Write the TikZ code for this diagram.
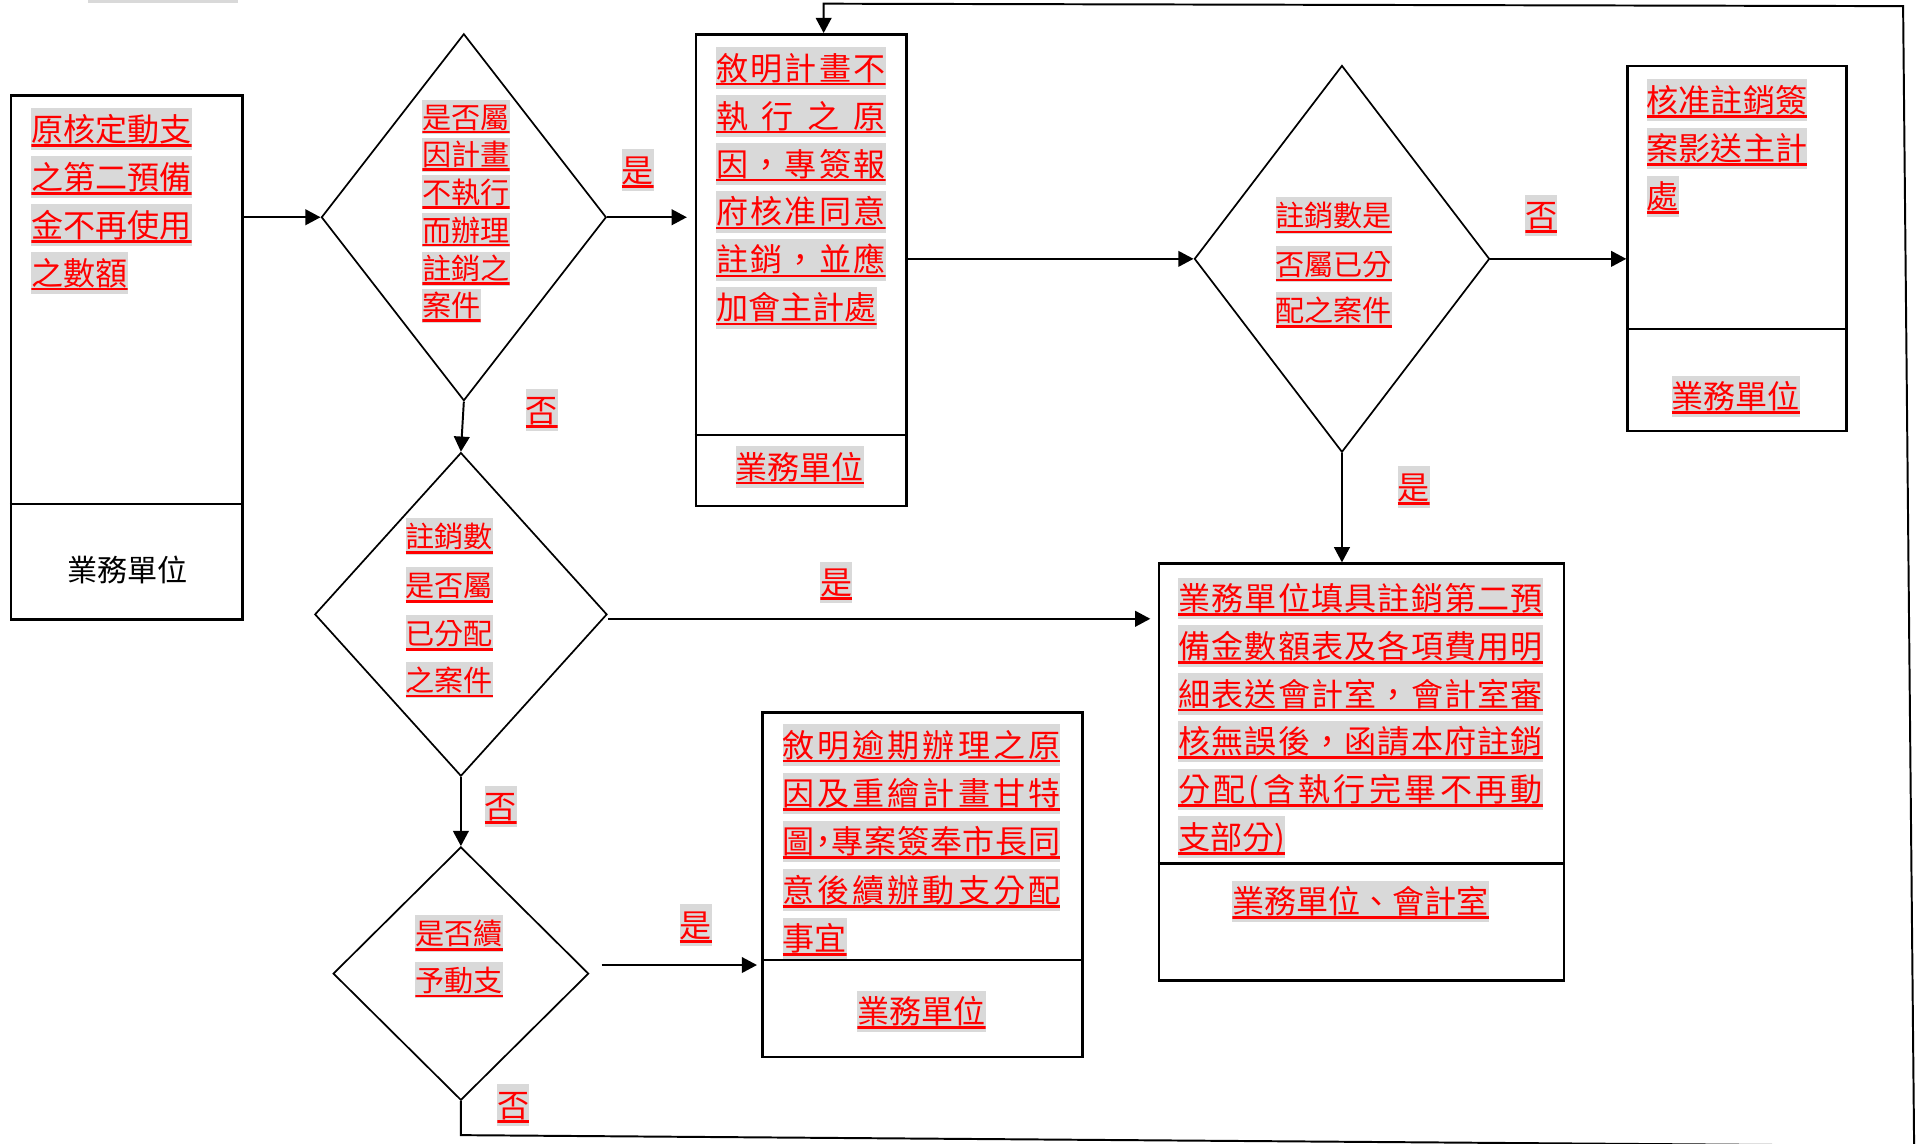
\documentclass[tikz,border=0pt]{standalone}
\usepackage{fontspec}
\newfontfamily\cjk{Noto Sans CJK TC}
\usetikzlibrary{shapes.geometric,arrows.meta}
\definecolor{hlgray}{HTML}{D9D9D9}
\definecolor{hlred}{HTML}{FF0000}
\makeatletter
\newcommand\spreadto[2]{\makebox[#1][s]{\def\sp@first{1}\@tfor\sp@c:=#2\do{\ifx\sp@first\@empty\hfill\fi\sp@c\let\sp@first\@empty}}}
\makeatother
\tikzset{
  boxst/.style={draw, line width=1pt, anchor=north west, inner sep=0pt},
  divline/.style={line width=1pt},
  dia/.style={draw, diamond, line width=0.7pt, inner sep=0pt},
  arr/.style={line width=0.8pt, -{Triangle[length=6.2pt,width=6.4pt]}},
  hlt/.style={fill=hlgray, text=hlred, inner xsep=0pt, inner ysep=0pt, anchor=west,
    minimum height=17pt, text height=11.5pt, text depth=1.6pt,
    font=\cjk\fontsize{13.1pt}{13.1pt}\selectfont,
    path picture={\draw[hlred, line width=1.1pt]
      ([yshift=1.9pt]path picture bounding box.south west) --
      ([yshift=1.9pt]path picture bounding box.south east);}},
  hld/.style={fill=hlgray, text=hlred, inner xsep=0pt, inner ysep=0pt, anchor=west,
    minimum height=15pt, text height=10.5pt, text depth=1.4pt,
    font=\cjk\fontsize{11.9pt}{11.9pt}\selectfont,
    path picture={\draw[hlred, line width=1.1pt]
      ([yshift=0.9pt]path picture bounding box.south west) --
      ([yshift=0.9pt]path picture bounding box.south east);}},
  lbl/.style={hlt, anchor=center},
  plain/.style={font=\cjk\fontsize{12.3pt}{12.3pt}\selectfont, inner sep=0pt}
}
\begin{document}
\begin{tikzpicture}[x=0.5pt,y=-0.5pt]
\useasboundingbox (0,0) rectangle (1568,934);
\clip (0,0) rectangle (1568,934);
\fill[white] (0,0) rectangle (1568,934);
\fill[hlgray] (72,0) rectangle (194.5,2.2);

% boxes
\node[boxst, minimum width=94.5pt, minimum height=214pt] (b1) at (8,77) {};
\draw[divline] (b1.west |- 0,412) -- (b1.east |- 0,412);
\node[boxst, minimum width=86.1pt, minimum height=192.8pt] (b2) at (567.6,27) {};
\draw[divline] (b2.west |- 0,355.4) -- (b2.east |- 0,355.4);
\node[boxst, minimum width=89.4pt, minimum height=149.1pt] (b3) at (1328.8,53.1) {};
\draw[divline] (b3.west |- 0,268.8) -- (b3.east |- 0,268.8);
\node[boxst, minimum width=130.8pt, minimum height=140.9pt] (b4) at (621.9,581) {};
\draw[divline] (b4.west |- 0,784.4) -- (b4.east |- 0,784.4);
\node[boxst, minimum width=165.5pt, minimum height=170.25pt] (b5) at (945.9,459.5) {};
\draw[divline] (b5.west |- 0,705.4) -- (b5.east |- 0,705.4);

% diamonds
\node[dia, minimum width=116.4pt, minimum height=149.9pt] (d1) at (379,177.5) {};
\node[dia, minimum width=120.6pt, minimum height=158pt] (d2) at (1096.5,211.5) {};
\node[dia, minimum width=119.4pt, minimum height=132.2pt] (d3) at (376.6,502) {};
\node[dia, minimum width=104.4pt, minimum height=103.5pt] (d4) at (376.6,795.5) {};

% box 1 text
\node[hlt] (t1a) at (25.2,105.5) {原核定動支};
\node[hlt] (t1b) at (25.2,144.8) {之第二預備};
\node[hlt] (t1c) at (25.2,184) {金不再使用};
\node[hlt] (t1d) at (25.2,223) {之數額};
\node[plain] (f1) at (104,465.7) {業務單位};

% diamond 1 text
\node[hld, minimum height=14pt] (s1a) at (344.7,95.6) {是否屬};
\node[hld, minimum height=14pt] (s1b) at (344.7,126.4) {因計畫};
\node[hld, minimum height=14pt] (s1c) at (344.7,157.1) {不執行};
\node[hld, minimum height=14pt] (s1d) at (344.7,187.9) {而辦理};
\node[hld, minimum height=14pt] (s1e) at (344.7,219.5) {註銷之};
\node[hld, minimum height=14pt] (s1f) at (344.7,249.8) {案件};

% box 2 text
\node[hlt] (t2a) at (584.8,55.5) {\spreadto{69.25pt}{敘明計畫不}};
\node[hlt] (t2b) at (584.8,94.7) {\spreadto{69.25pt}{執行之原}};
\node[hlt] (t2c) at (584.8,133.9) {\spreadto{69.25pt}{因，專簽報}};
\node[hlt] (t2d) at (584.8,173.1) {\spreadto{69.25pt}{府核准同意}};
\node[hlt] (t2e) at (584.8,212.3) {\spreadto{69.25pt}{註銷，並應}};
\node[hlt] (t2f) at (584.8,251.5) {加會主計處};
\node[lbl] (f2) at (653.5,381.5) {業務單位};

% diamond 2 text
\node[hld] (s2a) at (1041.8,176.3) {註銷數是};
\node[hld] (s2b) at (1041.8,215.6) {否屬已分};
\node[hld] (s2c) at (1041.8,253.3) {配之案件};

% box 3 text
\node[hlt] (t3a) at (1345.2,81.7) {核准註銷簽};
\node[hlt] (t3b) at (1345.2,121.2) {案影送主計};
\node[hlt] (t3c) at (1345.2,160.7) {處};
\node[lbl] (f3) at (1418.3,324.1) {業務單位};

% diamond 3 text
\node[hld] (s3a) at (331,438.5) {註銷數};
\node[hld] (s3b) at (331,478) {是否屬};
\node[hld] (s3c) at (331,517.3) {已分配};
\node[hld] (s3d) at (331,555.6) {之案件};

% box 5 text
\node[hlt] (t5a) at (962.3,489) {\spreadto{149pt}{業務單位填具註銷第二預}};
\node[hlt] (t5b) at (962.3,528) {\spreadto{149pt}{備金數額表及各項費用明}};
\node[hlt] (t5c) at (962.3,567) {\spreadto{149pt}{細表送會計室，會計室審}};
\node[hlt] (t5d) at (962.3,606) {\spreadto{149pt}{核無誤後，函請本府註銷}};
\node[hlt] (t5e) at (962.3,645) {\spreadto{149pt}{分配(含執行完畢不再動}};
\node[hlt] (t5f) at (962.3,684) {支部分)};
\node[lbl] (f5) at (1111.8,736.7) {業務單位、會計室};

% diamond 4 text
\node[hld] (s4a) at (339,762.6) {是否續};
\node[hld] (s4b) at (339,800.7) {予動支};

% box 4 text
\node[hlt] (t4a) at (639,608.7) {\spreadto{113.5pt}{敘明逾期辦理之原}};
\node[hlt] (t4b) at (639,648.2) {\spreadto{113.5pt}{因及重繪計畫甘特}};
\node[hlt] (t4c) at (639,687.7) {\spreadto{113.5pt}{圖{\makebox[0.5em]{，}}專案簽奉市長同}};
\node[hlt] (t4d) at (639,727.2) {\spreadto{113.5pt}{意後續辦動支分配}};
\node[hlt] (t4e) at (639,766.7) {事宜};
\node[lbl] (f4) at (752.9,826.6) {業務單位};

% labels
\node[lbl] (y1) at (521,139) {是};
\node[lbl] (n1) at (442.6,335) {否};
\node[lbl] (n2) at (1259.4,176) {否};
\node[lbl] (y2) at (1155,398) {是};
\node[lbl] (y3) at (683.4,476) {是};
\node[lbl] (n3) at (409,659) {否};
\node[lbl] (n4) at (419.5,903) {否};
\node[lbl] (y4) at (568.5,756) {是};

% connectors
\draw[arr] (b1.east |- d1.west) -- (d1.west);
\draw[arr, shorten >=3.2pt] (d1.east) -- (b2.west |- d1.east);
\draw[arr] (b2.east |- d2.west) -- (d2.west);
\draw[arr] (d2.east) -- (b3.west |- d2.east);
\draw[arr] (d2.south) -- (d2.south |- b5.north);
\draw[arr] (d1.south) -- (d3.north);
\coordinate (s3e) at ([yshift=-1.8pt]d3.east);
\draw[arr, shorten >=3pt] (s3e) -- (b5.west |- s3e);
\draw[arr] (d3.south) -- (d4.north);
\coordinate (s4e) at (491.6,788.5);
\draw[arr, shorten >=1.7pt] (s4e) -- (s4e -| b4.west);
\coordinate (lpA) at (374.5,927.5);
\coordinate (lpB) at (1564,936.4);
\coordinate (lpC) at (1555,5);
\coordinate (lpD) at (673,3);
\draw[arr] (d4.south) -- (d4.south |- lpA) -- (lpB) -- (lpC) -- (lpD) -- (lpD |- b2.north);
\end{tikzpicture}
\end{document}
